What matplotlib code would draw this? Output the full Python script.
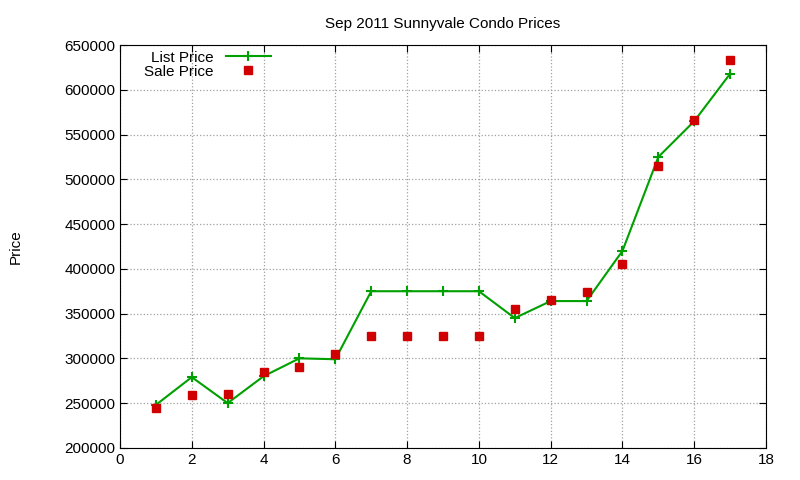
import matplotlib
matplotlib.use("Agg")
import matplotlib.pyplot as plt

units = list(range(1, 18))
list_price = [248000, 279000, 250000, 280000, 300000, 299000, 375000, 375000, 375000,
              375000, 345000, 364000, 364000, 420000, 525000, 565000, 618000]
sale_price = [245000, 259000, 260000, 285000, 290000, 305000, 325000, 325000, 325000,
              325000, 355000, 365000, 374000, 405000, 515000, 566000, 633000]

plt.rcParams["font.family"] = ["Liberation Sans", "DejaVu Sans"]
fig = plt.figure(figsize=(8, 4.8), dpi=100)
ax = fig.add_axes([0.15, 0.067, 0.8075, 0.839])

ax.plot(units, list_price, color="#00a000", lw=1.5, marker="+", ms=7, mew=1.5, label="List Price")
ax.plot(units, sale_price, ls="none", marker="s", color="#d00000", ms=5.5, label="Sale Price")

ax.set_xlim(0, 18)
ax.set_ylim(200000, 650000)
ax.set_xticks(range(0, 19, 2))
ax.set_yticks(range(200000, 650001, 50000))
ax.tick_params(direction="in", top=True, right=True, labelsize=11, length=5)
ax.grid(True, color="#a0a0a0", ls=":", lw=0.9)
ax.set_title("Sep 2011 Sunnyvale Condo Prices", fontsize=11, pad=12)
ax.set_ylabel("Price", fontsize=11, labelpad=30)
ax.legend(loc="upper left", markerfirst=False, frameon=False, fontsize=11,
          borderaxespad=0.1, handlelength=3, labelspacing=0.0, bbox_to_anchor=(0.025, 1.005))

fig.savefig("out.png", dpi=100)
